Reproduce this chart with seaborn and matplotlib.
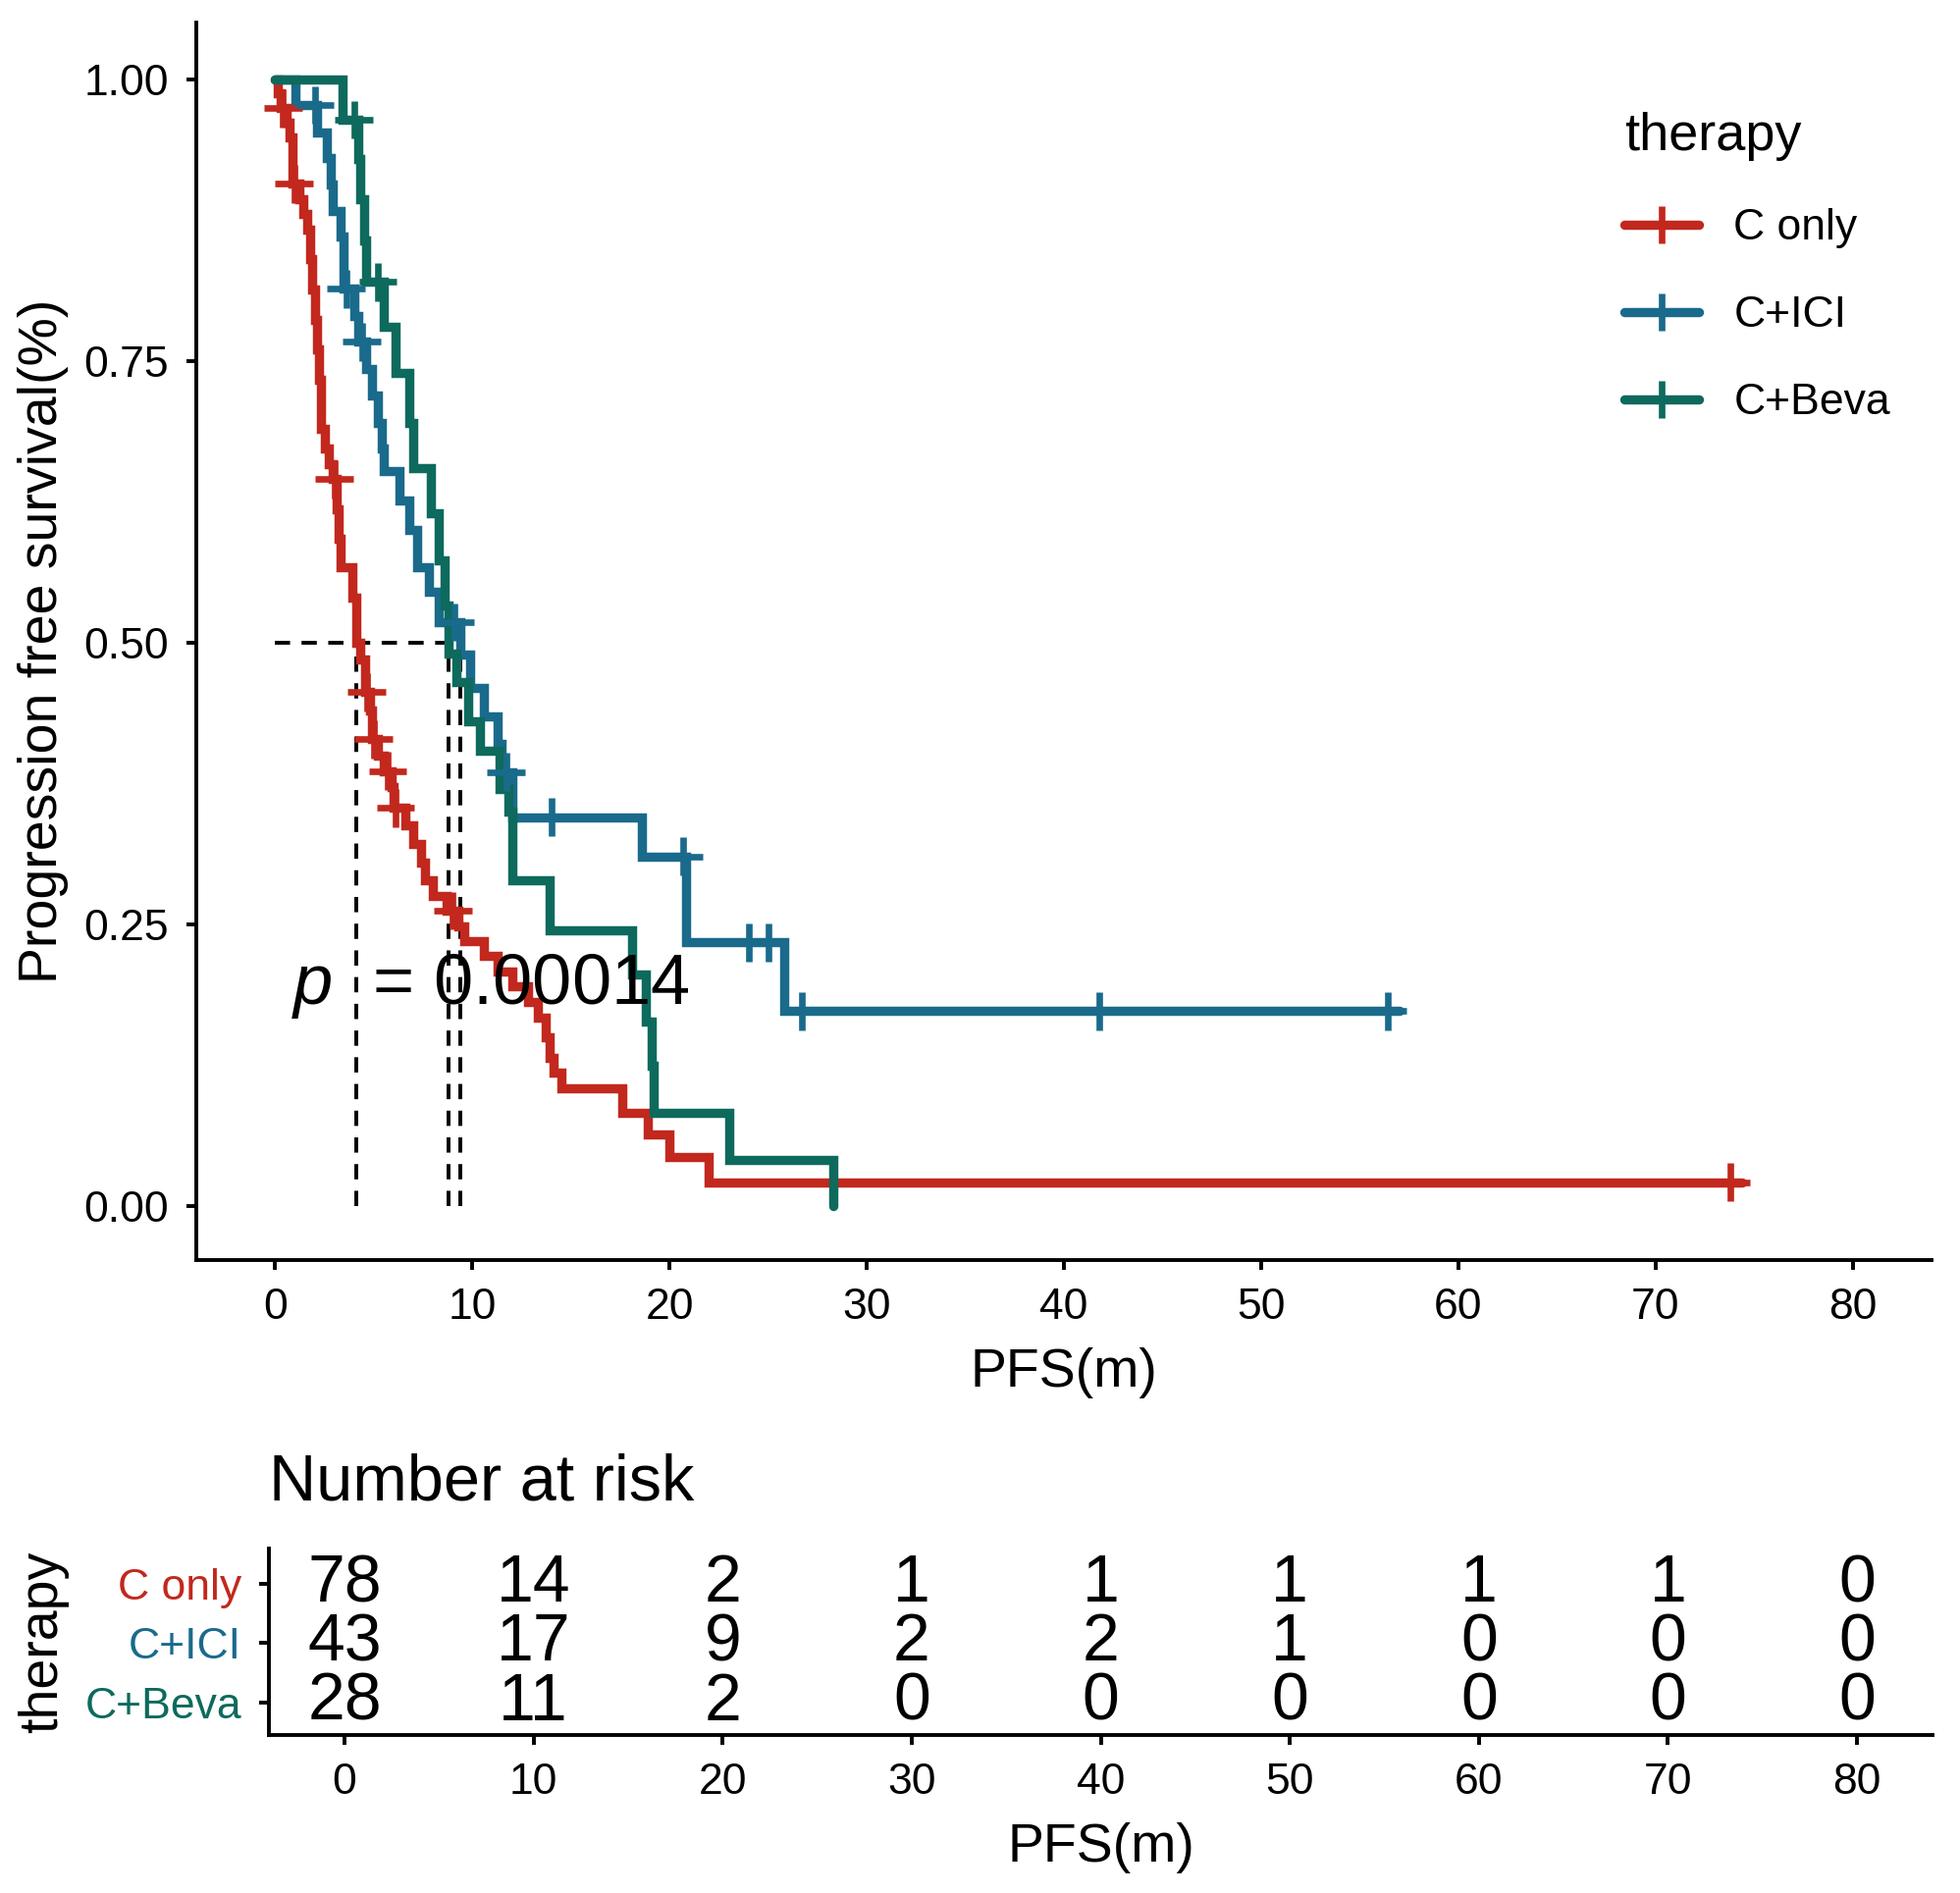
import numpy as np
import pandas as pd
import seaborn as sns
import matplotlib.pyplot as plt
from matplotlib.lines import Line2D

# Kaplan-Meier steps: (time of step, survival after step)
groups = ['C only', 'C+ICI', 'C+Beva']
colors = ['#C2281D', '#1A6A8C', '#0D6A5D']

conly_time = [0, 0.15, 0.3, 0.55, 0.7, 0.85, 1.2, 1.4, 1.6, 1.75, 1.85, 2.0, 2.1, 2.2,
              2.3, 2.5, 2.7, 2.9, 3.1, 3.2, 3.3, 3.9, 4.1, 4.3, 4.55, 4.8, 4.9, 5.2,
              5.5, 5.9, 6.0, 6.6, 7.0, 7.4, 7.6, 8.0, 8.7, 9.3, 9.6, 10.6, 11.3,
              12.0, 12.8, 13.3, 13.7, 13.9, 14.1, 14.5, 17.6, 18.9, 20.0, 22.0, 74.4]
conly_surv = [1.0, 0.987, 0.974, 0.961, 0.948, 0.907, 0.893, 0.880, 0.866, 0.840, 0.813, 0.786, 0.760, 0.733,
              0.690, 0.672, 0.658, 0.645, 0.618, 0.592, 0.567, 0.540, 0.500, 0.485, 0.456, 0.440, 0.414, 0.400,
              0.386, 0.372, 0.353, 0.338, 0.321, 0.305, 0.289, 0.275, 0.262, 0.248, 0.235, 0.222, 0.208,
              0.195, 0.181, 0.167, 0.150, 0.131, 0.118, 0.104, 0.083, 0.063, 0.043, 0.021, 0.021]
conly_censor = [0.4, 0.95, 3.0, 4.65, 4.98, 5.7, 6.1, 9.0, 73.8]

ici_time = [0, 1.0, 2.1, 2.6, 2.8, 2.9, 3.3, 3.45, 4.0, 4.2, 4.6, 4.9, 5.2, 5.4, 5.5,
            6.3, 6.8, 7.2, 7.8, 8.3, 9.4, 9.9, 10.6, 11.3, 11.5, 12.0, 18.6, 20.85, 25.8, 57.0]
ici_surv = [1.0, 0.977, 0.953, 0.930, 0.906, 0.883, 0.860, 0.814, 0.790, 0.767, 0.743, 0.719, 0.695, 0.672, 0.652,
            0.626, 0.600, 0.567, 0.545, 0.518, 0.489, 0.460, 0.434, 0.410, 0.385, 0.345, 0.310, 0.234, 0.173, 0.173]
ici_censor = [2.0, 3.6, 4.4, 9.1, 11.7, 14.0, 20.7, 24.0, 25.0, 26.7, 41.8, 56.4]

beva_time = [0, 3.4, 4.2, 4.3, 4.5, 4.6, 5.5, 6.1, 6.8, 7.0, 7.9, 8.3, 8.6, 8.8, 9.2,
             9.8, 10.4, 11.4, 11.8, 12.0, 13.9, 18.1, 18.8, 19.1, 19.2, 23.0, 28.3]
beva_surv = [1.0, 0.964, 0.929, 0.893, 0.857, 0.820, 0.780, 0.739, 0.695, 0.655, 0.615, 0.573, 0.533, 0.490, 0.465,
             0.430, 0.404, 0.370, 0.350, 0.289, 0.245, 0.205, 0.164, 0.124, 0.083, 0.041, 0.0]
beva_censor = [4.0, 5.2]

pval_text = '0.00014'

risk_times = [0, 10, 20, 30, 40, 50, 60, 70, 80]
risk_conly = [78, 14, 2, 1, 1, 1, 1, 1, 0]
risk_ici = [43, 17, 9, 2, 2, 1, 0, 0, 0]
risk_beva = [28, 11, 2, 0, 0, 0, 0, 0, 0]

steps = {'C only': (conly_time, conly_surv), 'C+ICI': (ici_time, ici_surv), 'C+Beva': (beva_time, beva_surv)}
censors = {'C only': conly_censor, 'C+ICI': ici_censor, 'C+Beva': beva_censor}
risk = {'C only': risk_conly, 'C+ICI': risk_ici, 'C+Beva': risk_beva}
pal = dict(zip(groups, colors))

curve_rows = []
cens_rows = []
medians = []
for g in groups:
    t, s = steps[g]
    for ti, si in zip(t, s):
        curve_rows.append((g, ti, si))
    # censor marks sit on the curve at their time
    for c in censors[g]:
        idx = np.searchsorted(t, c, side='right') - 1
        cens_rows.append((g, c, s[idx]))
    medians.append(next(ti for ti, si in zip(t, s) if si <= 0.5))
curves = pd.DataFrame(curve_rows, columns=['therapy', 'time', 'surv'])
cens = pd.DataFrame(cens_rows, columns=['therapy', 'time', 'surv'])

sns.set_theme(style='ticks')
plt.rcParams['font.family'] = ['Liberation Sans', 'DejaVu Sans']
plt.rcParams['mathtext.fontset'] = 'custom'
plt.rcParams['mathtext.it'] = 'Liberation Sans:italic'
plt.rcParams['mathtext.rm'] = 'Liberation Sans'
plt.rcParams['text.color'] = 'black'
plt.rcParams['axes.labelcolor'] = 'black'

fig = plt.figure(figsize=(19.97, 19.29), dpi=100)
ax = fig.add_axes([0.1002, 0.3344, 0.8853, 0.6536])
ax2 = fig.add_axes([0.1372, 0.0835, 0.8488, 0.0985])

# median lines
ax.plot([0, max(medians)], [0.5, 0.5], color='black', ls=(0, (4, 3)), lw=2.8, zorder=1)
for m in medians:
    ax.plot([m, m], [0, 0.5], color='black', ls=(0, (4, 3)), lw=2.8, zorder=1)
n_before = len(ax.lines)

sns.lineplot(data=curves, x='time', y='surv', hue='therapy', palette=pal, hue_order=groups,
             drawstyle='steps-post', estimator=None, sort=False,
             legend=False, ax=ax, zorder=2)
for ln in ax.lines[n_before:]:
    ln.set_linewidth(6.8)
    ln.set_solid_joinstyle('miter')
sns.scatterplot(data=cens, x='time', y='surv', hue='therapy', palette=pal, hue_order=groups,
                marker='+', s=780, linewidth=4.8, legend=False, ax=ax, zorder=3)

ax.text(0.8, 0.195, r'$p$  = ' + pval_text, fontsize=52, ha='left', va='center', color='black')

ax.set_xlim(-4, 84)
ax.set_ylim(-0.048, 1.05)
ax.set_xticks(range(0, 81, 10))
ax.set_yticks([0, 0.25, 0.5, 0.75, 1.0])
ax.set_yticklabels(['0.00', '0.25', '0.50', '0.75', '1.00'])
ax.set_xlabel('PFS(m)', fontsize=40)
ax.set_ylabel('Progression free survival(%)', fontsize=40)
ax.xaxis.set_label_coords(0.5, -0.0706)
ax.yaxis.set_label_coords(-0.0735, 0.5)

handles = [Line2D([], [], color=c, lw=6.8, marker='+', markersize=28, markeredgewidth=4.8) for c in colors]
leg = ax.legend(handles, groups, title='therapy', loc='upper left',
                bbox_to_anchor=(1633 / 1997, 1 - 92 / 1929), bbox_transform=fig.transFigure,
                frameon=False, fontsize=32, title_fontsize=39, handlelength=1.7,
                handletextpad=0.8, labelspacing=1.08, borderpad=0, alignment='left')
for txt in leg.get_texts():
    txt.set_color('black')
leg.get_title().set_color('black')

# risk table
ypos = {'C only': 3, 'C+ICI': 2, 'C+Beva': 1}
for g in groups:
    for t, n in zip(risk_times, risk[g]):
        ax2.text(t, ypos[g], str(n), fontsize=49, ha='center', va='center', color='black')
ax2.set_xlim(-4, 84)
ax2.set_ylim(0.45, 3.6)
ax2.set_xticks(risk_times)
ax2.set_yticks([ypos[g] for g in groups])
ax2.set_yticklabels(groups)
ax2.set_xlabel('PFS(m)', fontsize=40)
ax2.set_ylabel('therapy', fontsize=40)
ax2.xaxis.set_label_coords(0.5, -0.468)
ax2.yaxis.set_label_coords(-0.120, 0.5)
ax2.text(0, 1.347, 'Number at risk', transform=ax2.transAxes, fontsize=48, ha='left', va='center',
         color='black')

for a in (ax, ax2):
    sns.despine(ax=a)
    for sp in a.spines.values():
        sp.set_linewidth(2.8)
        sp.set_color('black')
    a.tick_params(width=2.8, length=7, color='black', labelcolor='black', labelsize=32, pad=13)
for lab, c in zip(ax2.get_yticklabels(), colors):
    lab.set_fontsize(32)
    lab.set_color(c)

fig.savefig('out.png', dpi=100)
